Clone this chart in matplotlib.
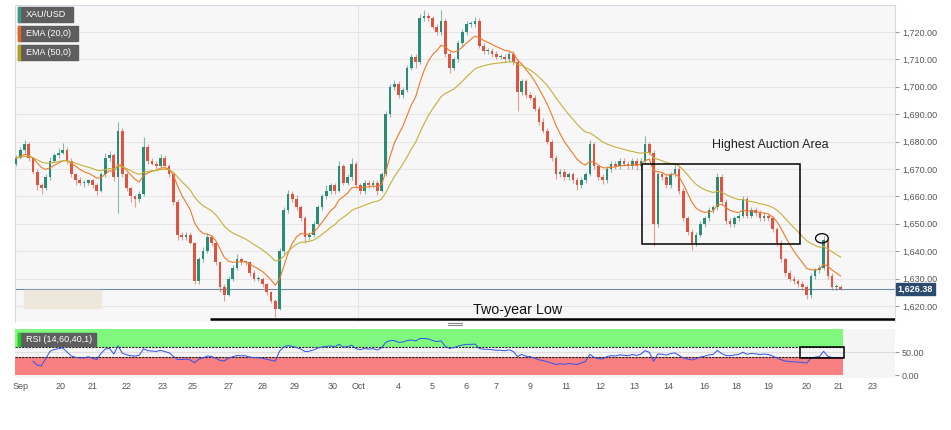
import matplotlib
matplotlib.use("Agg")
import matplotlib.pyplot as plt
from matplotlib.patches import Rectangle, Ellipse
from matplotlib.lines import Line2D
import numpy as np
import pandas as pd

plt.rcParams['font.family'] = ['Liberation Sans', 'DejaVu Sans']

# DATA (XAU/USD candles)
first_open = 1672.0
closes = [
    1674, 1677, 1679, 1674, 1669, 1664, 1663, 1667, 1673, 1675,
    1676, 1677, 1673, 1668, 1666, 1665, 1665, 1666, 1664, 1662,
    1668, 1674, 1675, 1667, 1684, 1668, 1663, 1660, 1659, 1661,
    1678, 1673, 1672, 1671, 1674, 1671, 1668, 1658, 1646, 1645,
    1646, 1643, 1629, 1637, 1640, 1645, 1643, 1636, 1627, 1624,
    1630, 1634, 1637, 1636, 1636, 1632, 1630, 1630, 1628, 1625,
    1622, 1619, 1640, 1655, 1661, 1659, 1656, 1652, 1645, 1646,
    1650, 1656, 1660, 1662, 1664, 1662, 1671, 1665, 1667, 1672,
    1664, 1662, 1665, 1664, 1665, 1662, 1668, 1690, 1700, 1701,
    1697, 1699, 1707, 1711, 1709, 1725, 1726, 1725, 1722, 1720,
    1724, 1712, 1707, 1710, 1716, 1720, 1723, 1723, 1724, 1715,
    1713, 1713, 1712, 1711, 1711, 1710, 1712, 1709, 1698, 1702,
    1697, 1696, 1692, 1687, 1684, 1680, 1674, 1668, 1669, 1667,
    1668, 1666, 1664, 1666, 1668, 1679, 1671, 1667, 1666, 1670,
    1672, 1671, 1673, 1672, 1671, 1673, 1671, 1673, 1679, 1676,
    1650, 1668, 1667, 1664, 1668, 1670, 1662, 1652, 1647, 1643,
    1646, 1650, 1652, 1655, 1656, 1667, 1658, 1651, 1650, 1652,
    1653, 1659, 1653, 1655, 1654, 1652, 1653, 1652, 1648, 1643,
    1637, 1632, 1630, 1629, 1628, 1627, 1624, 1631, 1633, 1634,
    1644, 1631, 1627, 1627, 1626.38,
]
upper_wick = [
    1, 1, 1.5, 1, 0.5, 1, 1, 1, 1.5, 1,
    1.5, 2.5, 1, 1, 0.5, 1, 1, 0.5, 0.5, 1,
    1, 2, 1.5, 1, 3, 1, 1, 0.5, 0.5, 1,
    3.5, 1, 1, 1, 1.5, 1, 1, 0.5, 1, 1,
    1, 1, 0.5, 1, 1.5, 1.5, 1, 0.5, 0.5, 1,
    1, 1, 2, 1, 0.5, 0.5, 1, 1, 0.5, 0.5,
    0.5, 0.5, 1, 1, 1.5, 1, 1.5, 1, 1, 1,
    1, 1, 1, 2, 1, 1, 2, 1, 1, 2,
    1, 1, 1, 1, 1, 1, 1, 1, 1, 1.5,
    1, 1, 1, 1, 1, 1.5, 2, 1, 1, 1,
    4, 1, 1, 1, 1, 1, 1, 1, 1.5, 1,
    1, 1, 1, 1, 1, 1, 1, 1, 1, 1,
    1, 1, 1, 1, 1.5, 1, 1, 1, 1, 1,
    1, 1, 1, 1, 1, 1.5, 1, 0.5, 1, 1,
    1, 1, 1, 1, 1, 1, 1, 1, 3, 1,
    1, 1, 1, 1, 1, 1.5, 1, 1, 1, 1,
    1, 1, 1, 1, 1, 1.5, 1, 1, 1, 1,
    1, 1, 1, 1, 1, 1, 1, 1, 1, 1,
    1, 1, 1, 1, 1, 1, 0.5, 1, 1, 1,
    1.5, 1, 1, 1, 0.5,
]
lower_wick = [
    1, 0.5, 1, 1, 1, 1.5, 2, 0.5, 1, 0.5,
    1, 0.5, 1, 1, 2, 1, 1.5, 1, 1, 1.5,
    0.5, 1, 1, 1.5, 13, 1, 1, 2, 3, 1,
    1, 1, 0.5, 1, 0.5, 1, 1, 1, 2, 1,
    1, 0.5, 1, 1, 1, 0.5, 1, 1, 2, 2,
    0.5, 1, 1, 1, 1, 1, 1, 1, 1, 1,
    1, 3, 0.5, 1, 1, 1, 1, 1, 2, 1,
    1, 0.5, 1, 1, 1, 1, 0.5, 1, 1, 1,
    1, 1, 1, 1, 1, 1.5, 0.5, 0.5, 1, 1,
    1, 1, 1, 1, 2, 0.5, 1, 1, 1, 1,
    1, 1, 2, 1, 1, 1, 1, 1, 1, 1,
    1, 1, 1, 1, 1, 1, 1, 1, 7, 1,
    1, 1, 1, 1, 1, 1, 1, 1.5, 1, 1,
    1, 1, 1.5, 1, 1, 0.5, 1, 1, 1.5, 1,
    1, 1, 1, 1, 1, 1, 1.5, 1.5, 1, 1,
    8, 1, 1, 1, 1, 1, 1, 1, 1, 2.5,
    1, 1, 1, 1, 1, 1, 1, 1, 1, 1,
    1, 1, 1, 1, 1, 1, 1, 1, 1, 1,
    1, 1, 1, 1, 1, 1, 1.5, 1, 1, 1,
    1, 1, 1, 1, 0.5,
]

date_ticks = [1, 10.5, 18, 26, 34.5, 41.5, 50, 58, 65.5, 74.5, 80.5, 90, 98,
              106, 113, 121, 129.5, 137.5, 145.5, 153.5, 162, 169.5, 177,
              186, 193.5, 201.5]
date_labels = ['Sep', '20', '21', '22', '23', '25', '27', '28', '29', '30',
               'Oct', '4', '5', '6', '7', '9', '11', '12', '13', '14', '16',
               '18', '19', '20', '21', '23']
price_ticks = [1620, 1630, 1640, 1650, 1660, 1670, 1680, 1690, 1700, 1710, 1720]
last_price = 1626.38

# annotation anchors (candle index / price)
auction_box = (147.3, 1642.6, 184.5, 1671.8)
low_level = 1615.3
spike_mark = (189.6, 1644.7)
rsi_box = (184.5, 37, 194.8, 61)

# the source chart packs ~16 candles into a day, these are 8 per day,
# so the EMA spans are shrunk by the same ratio to keep the same lag
CANDLE_RATIO = 8 / 16
EMA_FAST = 20
EMA_SLOW = 50

# STYLE
W, H = 951, 430
UP = '#2a8c76'
DOWN = '#de5440'
EMA20_C = '#f07a2a'
EMA50_C = '#c4b13c'
TXT = '#555555'


def fig_box(x, y, w, h):
    """
    Pixel box (from top-left) to figure fraction rect
    """
    return [x / W, 1 - (y + h) / H, w / W, h / H]


def tag(fig, x, y, w, h, text, stripe):
    """
    Dark legend tag with coloured stripe on the left
    """
    fig.add_artist(Rectangle((x / W, 1 - (y + h) / H), w / W, h / H,
                             transform=fig.transFigure, color='#5e5e5e', zorder=10))
    fig.add_artist(Rectangle((x / W, 1 - (y + h) / H), 2 / W, h / H,
                             transform=fig.transFigure, color=stripe, zorder=11))
    fig.text((x + 8) / W, 1 - (y + h / 2) / H, text, color='white', fontsize=6.5,
             va='center', ha='left', zorder=12)


def draw_candles(ax, opens, closes_, highs, lows):
    n = len(closes_)
    x = np.arange(n)
    up = closes_ >= opens
    cols = np.where(up, UP, DOWN)
    bottoms = np.minimum(opens, closes_)
    heights = np.maximum(np.abs(closes_ - opens), 0.3)
    ax.vlines(x, lows, highs, colors=cols, lw=0.8, alpha=0.55, zorder=3)
    ax.bar(x, heights, bottom=bottoms, width=0.62, color=cols, lw=0, zorder=4)


def main():
    c = np.array(closes, dtype=float)
    o = np.concatenate([[first_open], c[:-1]])
    hi = np.maximum(o, c) + np.array(upper_wick)
    lo = np.minimum(o, c) - np.array(lower_wick)
    n = len(c)
    s = pd.Series(c)
    ema20 = s.ewm(span=EMA_FAST * CANDLE_RATIO, adjust=False).mean()
    ema50 = s.ewm(span=EMA_SLOW * CANDLE_RATIO, adjust=False).mean()

    delta = s.diff().fillna(0)
    gain = delta.clip(lower=0).ewm(alpha=1 / 14, adjust=False).mean()
    loss = (-delta.clip(upper=0)).ewm(alpha=1 / 14, adjust=False).mean()
    rsi = 100 - 100 / (1 + gain / loss)
    rsi[:4] = np.nan

    xlim = (-0.24, 206.8)
    fig = plt.figure(figsize=(W / 100, H / 100), dpi=100)
    fig.patch.set_facecolor('white')

    # main price panel
    ax = fig.add_axes(fig_box(15, 5, 880, 317))
    ax.set_facecolor('#f7f7f7')
    ax.set_xlim(*xlim)
    ax.set_ylim(1614.16, 1729.85)
    for sp in ['top', 'left', 'right']:
        ax.spines[sp].set_color('#d6dbe6')
        ax.spines[sp].set_linewidth(0.8)
    ax.spines['bottom'].set_visible(False)
    ax.yaxis.tick_right()
    ax.set_yticks(price_ticks)
    ax.set_yticklabels([f'{v:,.2f}' for v in price_ticks])
    ax.tick_params(axis='y', length=3, color='#999999', labelsize=6.5,
                   labelcolor=TXT, pad=2)
    ax.set_xticks([])
    ax.grid(axis='y', color='#e6e6e6', lw=0.8, zorder=0)
    ax.axvline(80.5, color='#e6e6e6', lw=0.8, zorder=0)

    draw_candles(ax, o, c, hi, lo)
    ax.plot(np.arange(n), ema20, color=EMA20_C, lw=0.8, zorder=5)
    ax.plot(np.arange(n), ema50, color=EMA50_C, lw=0.8, zorder=5)
    ax.axhline(last_price, color='#6f8bab', lw=0.8, zorder=2)

    x0, y0, x1, y1 = auction_box
    ax.add_patch(Rectangle((x0, y0), x1 - x0, y1 - y0, fill=False,
                           ec='black', lw=1.1, zorder=6))
    ax.text(177.4, 1678.8, 'Highest Auction Area', fontsize=9, ha='center',
            va='center', color='#222222')
    ax.add_patch(Ellipse(spike_mark, 3.0, 3.4, fill=False, ec='black',
                         lw=0.9, zorder=6))
    ax.plot([45.6, xlim[1]], [low_level, low_level], color='black', lw=1.8,
            zorder=6, solid_capstyle='butt')
    ax.text(118.1, 1618.4, 'Two-year Low', fontsize=10.3, ha='center',
            va='center', color='#111111')

    # watermark blur
    fig.add_artist(Rectangle((24 / W, 1 - 308 / H), 77 / W, 18 / H,
                             transform=fig.transFigure, color='#eee7dc', zorder=8))

    # price tag
    fig.add_artist(Rectangle((896 / W, 1 - 295 / H), 39 / W, 12 / H,
                             transform=fig.transFigure, color='#2d4b6e', zorder=10))
    fig.text(915.5 / W, 1 - 289 / H, f'{last_price:,.2f}', color='white',
             fontsize=6.5, fontweight='bold', ha='center', va='center', zorder=11)

    tag(fig, 18, 7, 55, 15, 'XAU/USD', '#3a9a86')
    tag(fig, 18, 26, 60, 15, 'EMA (20,0)', '#e2661f')
    tag(fig, 18, 45, 60, 15, 'EMA (50,0)', '#b3a21c')

    # separator handle
    for yy in (323.2, 325.4):
        fig.add_artist(Line2D([448 / W, 462 / W], [1 - yy / H, 1 - yy / H],
                              transform=fig.transFigure, color='#888888', lw=0.8))

    # RSI panel
    ar = fig.add_axes(fig_box(15, 329, 880, 49))
    ar.set_facecolor('#f5f5f5')
    ar.set_xlim(*xlim)
    ar.set_ylim(-6.5, 100)
    for sp in ar.spines.values():
        sp.set_visible(False)
    band_x = [xlim[0], 194.6]
    ar.fill_between(band_x, 60, 100, color='#80f880', lw=0, zorder=1)
    ar.fill_between(band_x, 0, 40, color='#f88080', lw=0, zorder=1)
    ar.axhline(50, color='#dddddd', lw=0.8, zorder=1)
    ar.plot(band_x, [60, 60], color='#222222', lw=0.8, ls=(0, (2, 1)), zorder=2)
    ar.plot(band_x, [40, 40], color='#222222', lw=0.8, ls=(0, (2, 1)), zorder=2)
    ar.plot(np.arange(n), rsi, color='#3050f0', lw=0.7, zorder=3)
    bx0, by0, bx1, by1 = rsi_box
    ar.add_patch(Rectangle((bx0, by0), bx1 - bx0, by1 - by0, fill=False,
                           ec='black', lw=1.1, zorder=4))
    ar.yaxis.tick_right()
    ar.set_yticks([0, 50])
    ar.set_yticklabels(['0.00', '50.00'])
    ar.tick_params(axis='y', length=3, color='#999999', labelsize=6.5,
                   labelcolor=TXT, pad=2)
    ar.set_xticks(date_ticks)
    ar.set_xticklabels(date_labels)
    ar.tick_params(axis='x', length=0, labelsize=6.5, labelcolor=TXT, pad=3)

    tag(fig, 18, 333, 78, 13, 'RSI (14,60,40,1)', '#22cc22')

    fig.savefig('out.png', dpi=100, facecolor='white')


main()
